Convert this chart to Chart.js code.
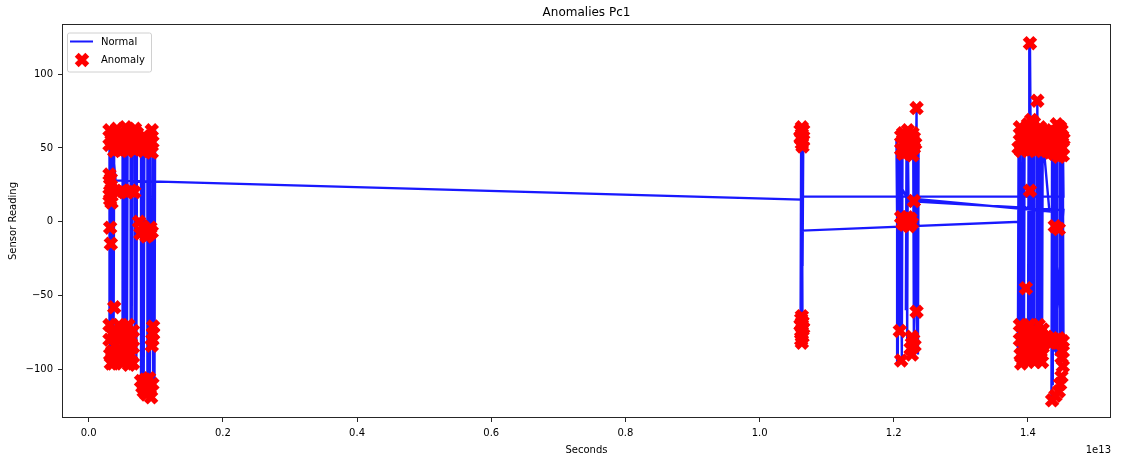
<!DOCTYPE html>
<html>
<head>
<meta charset="utf-8">
<script src="https://cdn.jsdelivr.net/npm/chart.js@4.4.1/dist/chart.umd.min.js"></script>
<style>
  html, body { margin: 0; padding: 0; background: #fff; }
</style>
</head>
<body>
<canvas id="c" width="1124" height="462"></canvas>
<script>
/* Anomalies Pc1 - sensor reading over time, normal trace + flagged anomalies.
   Time values are in units of 1e13 s (shown as the "1e13" offset label). */

const lineSeconds = [
  0.099, 0.098, 0.097, 0.096, 0.095, 0.094, 0.096, 0.098, 0.097,
  0.092, 0.091, 0.090, 0.089, 0.088, 0.087, 0.088, 0.090, 0.089,
  0.083, 0.082, 0.081, 0.080, 0.079, 0.078, 0.080, 0.082,
  0.072, 0.071, 0.070, 0.069, 0.068, 0.069, 0.071, 0.069,
  0.065, 0.064, 0.063, 0.062, 0.063,
  0.058, 0.057, 0.056, 0.055, 0.054, 0.053, 0.052, 0.051, 0.050, 0.051,
  0.038, 0.037, 0.036, 0.035, 0.034, 0.033, 0.032, 0.031, 0.031, 0.033, 0.035, 0.040,
  1.062, 1.063, 1.062, 1.064, 1.063, 1.062, 1.064, 1.063, 1.062, 1.064,
  1.453, 1.452, 1.451, 1.450, 1.449, 1.448, 1.447, 1.452, 1.453, 1.451, 1.444,
  1.443, 1.442, 1.441, 1.440, 1.438, 1.437, 1.436, 1.435, 1.436, 1.439, 1.453,
  1.222, 1.221, 1.220, 1.219, 1.218, 1.221,
  1.229, 1.230, 1.234, 1.234, 1.235, 1.236, 1.237, 1.235, 1.231, 1.229,
  1.213, 1.212, 1.210, 1.209, 1.207, 1.206, 1.205, 1.204, 1.206, 1.208, 1.220,
  1.432, 1.422, 1.421, 1.419, 1.418, 1.416, 1.415, 1.414, 1.413, 1.420, 1.417, 1.416,
  1.410, 1.409, 1.408, 1.406, 1.405, 1.404, 1.403, 1.402, 1.401, 1.400, 1.407, 1.402, 1.403,
  1.395, 1.394, 1.392, 1.391, 1.390, 1.388, 1.387, 1.386, 1.385, 1.393, 1.389, 1.388,
  1.064, 1.063, 1.061, 1.062, 1.063, 1.065, 1.064, 1.062, 1.061, 1.063,
];
const lineReading = [
  62, -118, 55, -112, -10, -80, 60, -105, 58,
  52, -108, 50, -85, -110, -8, 55, -100, 56,
  57, -105, 54, -95, -108, 52, -100, 55,
  60, -95, 58, -88, -5, 58, -90, 58,
  62, -88, 55, -85, 56,
  60, -92, 20, 58, -90, 56, -85, 19, -95, 62,
  58, -92, 62, -88, 52, -95, 30, 60, -80, -15, 55, 28,
  15, 58, -72, 55, -40, 20, -78, 60, -30, 17,
  17, 60, -82, 55, -100, 62, -95, 50, -88, 58, 55,
  -90, -4, 60, -85, 52, -110, 58, -121, 50, -88, 8,
  14, 55, -80, 52, -60, 58,
  55, -85, 77, -61, 50, -90, 56, -78, 14, 52,
  50, -92, 58, -74, 45, -97, 2, 55, -40, 26, 16,
  7, 58, -90, 55, -85, 60, -95, 82, -88, -92, 57, 62,
  58, -92, 50, -97, 21, 60, 121, -85, 55, -90, 55, -94, 58,
  62, -95, 55, -45, -98, 60, -85, 52, -92, 58, -96, 0,
  -6, 52, -82, 62, -66, 48, -30, 25, -75, 56,
];

const anomalySeconds = [
  // early cluster
  0.031, 0.031, 0.036, 0.038, 0.042, 0.045, 0.049, 0.051, 0.055, 0.057, 0.061, 0.063,
  0.066, 0.069, 0.071, 0.074, 0.078, 0.082, 0.086, 0.090, 0.094, 0.095, 0.094,
  0.034, 0.040, 0.047, 0.053, 0.059, 0.065, 0.072, 0.076, 0.080, 0.085, 0.089, 0.092,
  0.044, 0.058, 0.067,
  0.031, 0.032, 0.031, 0.034, 0.033, 0.034, 0.032, 0.043, 0.050, 0.057, 0.063, 0.068,
  0.032, 0.033, 0.038, 0.075, 0.077, 0.083, 0.089, 0.094, 0.080, 0.086, 0.092,
  0.031, 0.031, 0.032, 0.033, 0.038, 0.039, 0.040, 0.045, 0.046, 0.046,
  0.052, 0.052, 0.053, 0.059, 0.059, 0.060, 0.066, 0.066, 0.066,
  0.035, 0.035, 0.042, 0.042, 0.049, 0.049, 0.056, 0.056, 0.063, 0.063, 0.036, 0.050, 0.060,
  0.096, 0.095, 0.096, 0.094,
  0.078, 0.082, 0.088, 0.093, 0.095, 0.080, 0.086, 0.091, 0.090, 0.084,
  // cluster near 1.06
  1.061, 1.065, 1.062, 1.064, 1.063, 1.062, 1.064, 1.062, 1.064, 1.063, 1.062,
  1.063, 1.063, 1.061, 1.065, 1.063, 1.063, 1.061, 1.065, 1.063,
  // cluster near 1.22
  1.211, 1.218, 1.225, 1.230, 1.211, 1.218, 1.225, 1.230, 1.214, 1.227, 1.234,
  1.214, 1.221, 1.228, 1.221, 1.214, 1.228, 1.232,
  1.230, 1.211, 1.218, 1.225, 1.216, 1.223, 1.213, 1.220, 1.227,
  1.209, 1.234, 1.227, 1.231, 1.227, 1.211, 1.229, 1.225,
  // cluster near 1.40
  1.388, 1.388, 1.390, 1.395, 1.398, 1.400, 1.403, 1.405, 1.408, 1.410, 1.413, 1.415,
  1.418, 1.420, 1.423, 1.425, 1.428, 1.430, 1.433, 1.436, 1.438, 1.440, 1.443, 1.445,
  1.447, 1.450, 1.452, 1.453, 1.386,
  1.391, 1.393, 1.397, 1.401, 1.406, 1.411, 1.416, 1.421, 1.426, 1.431, 1.434, 1.441,
  1.444, 1.448, 1.451, 1.439, 1.446, 1.452, 1.405, 1.409,
  1.403, 1.414, 1.403, 1.440, 1.446, 1.397,
  1.388, 1.388, 1.389, 1.390, 1.395, 1.396, 1.397, 1.402, 1.403, 1.403,
  1.409, 1.409, 1.410, 1.416, 1.416, 1.417, 1.422, 1.422, 1.421,
  1.391, 1.392, 1.393, 1.399, 1.400, 1.400, 1.406, 1.406, 1.413, 1.413, 1.419, 1.419,
  1.425, 1.428, 1.435, 1.442, 1.449, 1.450, 1.448, 1.441,
  1.432, 1.439, 1.446, 1.452, 1.452, 1.452, 1.450, 1.446, 1.436,
];
const anomalyReading = [
  // early cluster
  62, 52, 58, 48, 63, 54, 60, 49, 64, 55, 62, 50,
  58, 63, 50, 56, 52, 48, 52, 48, 62, 54, 47,
  55, 56, 57, 58, 57, 55, 60, 50, 55, 57, 55, 58,
  49, 48, 49,
  32, 25, 18, 13, 29, 22, 15, 20, 21, 20, 21, 20,
  -4, -15, -58, 0, -8, -7, -9, -7, -3, -10, -4,
  -70, -80, -90, -96, -73, -84, -94, -70, -80, -90,
  -72, -83, -94, -70, -80, -91, -74, -85, -96,
  -76, -88, -77, -89, -76, -87, -76, -88, -78, -90, -96, -96, -97,
  -71, -80, -76, -84,
  -108, -115, -110, -119, -110, -112, -117, -113, -106, -107,
  // cluster near 1.06
  62, 62, 56, 51, 58, -66, -68, -74, -78, -82, -80,
  64, 53, 57, 55, -70, -76, -70, -72, -64,
  // cluster near 1.22
  58, 58, 58, 57, 49, 47, 48, 50, 53, 53, 77,
  60, 62, 60, 52, 46, 45, 53,
  14, 3, 0, 2, -2, -3, -1, 3, -1,
  -74, -61, -78, -84, -90, -94, -80, -86,
  // cluster near 1.40
  64, 55, 48, 60, 52, 66, 57, 49, 63, 55, 60, 50,
  64, 56, 52, 60, 48, 55, 47, 62, 52, 58, 66, 50,
  56, 62, 50, 56, 50,
  58, 50, 63, 53, 60, 48, 57, 62, 54, 61, 52, 50,
  57, 64, 58, 46, 44, 45, 69, 67,
  121, 82, 21, -3, -5, -45,
  -70, -80, -90, -96, -74, -85, -93, -70, -80, -90,
  -73, -84, -95, -70, -80, -90, -73, -85, -95,
  -75, -85, -94, -72, -82, -92, -77, -87, -75, -86, -76, -88,
  -80, -78, -82, -80, -82, -92, -110, -118,
  -82, -80, -79, -81, -88, -98, -105, -115, -121,
];

const xTicks = [0.0, 0.2, 0.4, 0.6, 0.8, 1.0, 1.2, 1.4];
const yTicks = [-100, -50, 0, 50, 100];

const INK = "#262626";
const LINE_BLUE = "rgba(0,0,255,0.9)";
const MARK_RED = "#ff0000";

Chart.defaults.font.family = '"DejaVu Sans", sans-serif';
Chart.defaults.font.size = 10;
Chart.defaults.color = "#000";

function drawX(ctx, x, y, r, w) {
  ctx.save();
  ctx.strokeStyle = MARK_RED;
  ctx.lineWidth = w;
  const d = r * Math.SQRT1_2;
  ctx.beginPath();
  ctx.moveTo(x - d, y - d); ctx.lineTo(x + d, y + d);
  ctx.moveTo(x + d, y - d); ctx.lineTo(x - d, y + d);
  ctx.stroke();
  ctx.restore();
}

// title, spines, in-axes legend and the 1e13 offset label (matplotlib look)
const decorations = {
  id: "decorations",
  afterDraw(chart) {
    const { ctx, chartArea: a } = chart;
    ctx.save();
    ctx.strokeStyle = INK;
    ctx.lineWidth = 1;
    ctx.strokeRect(Math.round(a.left) + 0.5, Math.round(a.top) + 0.5,
      Math.round(a.right - a.left) - 1, Math.round(a.bottom - a.top) - 1);

    ctx.fillStyle = "#000";
    ctx.textBaseline = "middle";
    ctx.textAlign = "center";
    ctx.font = '12px "DejaVu Sans"';
    ctx.fillText("Anomalies Pc1", (a.left + a.right) / 2, 13);

    ctx.font = '10px "DejaVu Sans"';
    ctx.textAlign = "right";
    ctx.fillText("1e13", a.right, 450);

    // legend box
    const bx = a.left + 5, by = a.top + 8.5, bw = 84, bh = 39;
    ctx.fillStyle = "rgba(255,255,255,0.8)";
    ctx.strokeStyle = "#d0d0d0";
    ctx.beginPath();
    ctx.roundRect(bx + 0.5, by + 0.5, bw, bh, 2);
    ctx.fill();
    ctx.stroke();
    ctx.strokeStyle = LINE_BLUE;
    ctx.lineWidth = 2;
    ctx.beginPath();
    ctx.moveTo(bx + 3, by + 9); ctx.lineTo(bx + 26, by + 9);
    ctx.stroke();
    drawX(ctx, bx + 15, by + 27.5, 7.5, 5.5);
    ctx.fillStyle = "#000";
    ctx.textAlign = "left";
    ctx.fillText("Normal", bx + 34, by + 9.5);
    ctx.fillText("Anomaly", bx + 34, by + 27.5);
    ctx.restore();
  },
};

const tickGrid = { display: true, drawOnChartArea: false, drawTicks: true, tickLength: 4, color: INK };

new Chart(document.getElementById("c"), {
  type: "line",
  data: {
    datasets: [
      {
        type: "scatter",
        label: "Anomaly",
        data: anomalySeconds.map((x, i) => ({ x, y: anomalyReading[i] })),
        pointStyle: "crossRot",
        pointRadius: 7.5,
        pointBorderWidth: 5.5,
        borderColor: MARK_RED,
        backgroundColor: MARK_RED,
        showLine: false,
        order: 0,
      },
      {
        label: "Normal",
        data: lineSeconds.map((x, i) => ({ x, y: lineReading[i] })),
        borderColor: LINE_BLUE,
        borderWidth: 2.4,
        pointRadius: 0,
        tension: 0,
        fill: false,
        order: 1,
      },
    ],
  },
  options: {
    responsive: false,
    animation: false,
    events: [],
    layout: { padding: { top: 24, right: 2, left: 0, bottom: 0 } },
    plugins: { legend: { display: false }, tooltip: { enabled: false }, title: { display: false } },
    scales: {
      x: {
        type: "linear",
        min: -0.0398,
        max: 1.5238,
        grid: tickGrid,
        border: { display: false },
        afterBuildTicks: (s) => { s.ticks = xTicks.map((value) => ({ value })); },
        afterFit: (s) => { s.height = 44; },
        ticks: { autoSkip: false, maxRotation: 0, padding: 5, callback: (v) => v.toFixed(1) },
        title: { display: true, text: "Seconds", padding: { top: 0, bottom: 6 }, font: { size: 10 } },
      },
      y: {
        min: -133,
        max: 134,
        grid: tickGrid,
        border: { display: false },
        afterBuildTicks: (s) => { s.ticks = yTicks.map((value) => ({ value })); },
        afterFit: (s) => { s.width = 62; },
        ticks: { padding: 5, callback: (v) => String(v).replace("-", "\u2212") },
        title: { display: true, text: "Sensor Reading", padding: { top: 7, bottom: 0 }, font: { size: 10 } },
      },
    },
  },
  plugins: [decorations],
});
</script>
</body>
</html>
